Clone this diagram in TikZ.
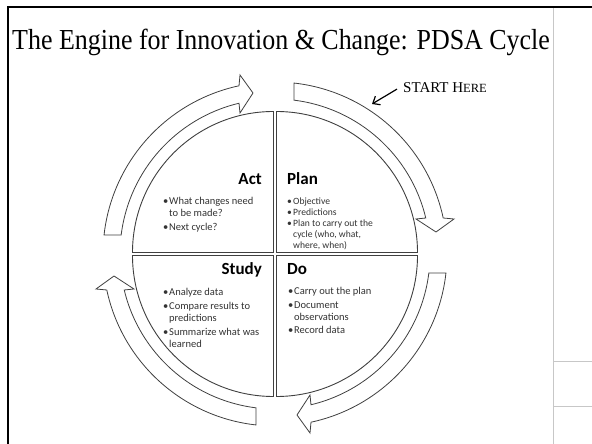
\documentclass[tikz,border=0pt]{standalone}
\usepackage{fontspec}
\setmainfont{Liberation Serif}
\newfontfamily\calib{Carlito}
\usetikzlibrary{arrows.meta}
\newcommand\bul{\makebox[6pt][l]{\textbullet}}
\newcommand\ind{\hspace*{6pt}}
\tikzset{
  quad/.style={draw=black!75, line width=0.9pt, fill=white},
  blockarrow/.style={draw=black!75, line width=0.8pt, fill=white, line join=miter},
  qhead/.style={font=\calib\bfseries\fontsize{17}{20}\selectfont, inner sep=0pt},
  qlist/.style={font=\calib\fontsize{10.5}{12}\selectfont, text=black!80, align=left, inner sep=0pt, anchor=north west},
  plist/.style={font=\calib\fontsize{9.6}{11}\selectfont, text=black!80, align=left, inner sep=0pt, anchor=north west},
  frameline/.style={line width=2.4pt, black},
  grayline/.style={line width=0.8pt, black!22}
}
\newcommand\cyclearrow[1]{%
  \begin{scope}[shift={(275,190)}, rotate=#1]
    \draw[blockarrow] (19,170.95) arc[start angle=83.66, end angle=12.08, radius=172]
      -- (179,35) -- (161,22) -- (141,35) -- (150.76,36)
      arc[start angle=13.43, end angle=82.96, radius=155] -- cycle;
  \end{scope}}
\begin{document}
\begin{tikzpicture}[x=1pt,y=1pt]
\useasboundingbox (0,0) rectangle (592,444);
% frame
\draw[frameline, line join=miter] (8,0) -- (8,437) -- (592,437);
\draw[grayline] (553,0) -- (553,436);
\draw[grayline] (553,83) -- (592,83);
\draw[grayline] (553,38) -- (592,38);
% title
\node[anchor=base west, inner sep=0pt, font=\fontsize{29}{32}\selectfont] (title) at (12,394)
  {\scalebox{0.895}[1]{The Engine for Innovation \& Change: PDSA Cycle}};
% cycle arrows
\cyclearrow{0}
\cyclearrow{90}
\cyclearrow{-90}
\cyclearrow{180}
% quadrants
\draw[quad] (273.5,191.5) -- ++(0,141) arc[start angle=90, end angle=180, radius=141] -- cycle;
\draw[quad] (276.5,191.5) -- ++(141,0) arc[start angle=0, end angle=90, radius=141] -- cycle;
\draw[quad] (273.5,188.5) -- ++(-141,0) arc[start angle=180, end angle=270, radius=141] -- cycle;
\draw[quad] (276.5,188.5) -- ++(0,-141) arc[start angle=270, end angle=360, radius=141] -- cycle;
% headings
\node[qhead, anchor=base east] (act) at (262,259) {Act};
\node[qhead, anchor=base west] (plan) at (287,259) {Plan};
\node[qhead, anchor=base east] (study) at (262,169) {Study};
\node[qhead, anchor=base west] (do) at (287,169) {Do};
% lists
\node[qlist] (actl) at (163,247) {\bul What changes need\\\ind to be made?\\[2pt]\bul Next cycle?};
\node[plist] (planl) at (287,246) {\bul Objective\\\bul Predictions\\\bul Plan to carry out the\\\ind cycle (who, what,\\\ind where, when)};
\node[qlist] (studyl) at (163,156) {\bul Analyze data\\[2pt]\bul Compare results to\\\ind predictions\\[2pt]\bul Summarize what was\\\ind learned};
\node[qlist] (dol) at (288,157) {\bul Carry out the plan\\[2pt]\bul Document\\\ind observations\\[1pt]\bul Record data};
% start here
\node[anchor=base west, inner sep=0pt, font=\fontsize{15}{17}\selectfont] (start) at (403,351)
  {START H{\fontsize{12.5}{14}\selectfont ERE}};
\coordinate (ptip) at (372,340);
\draw[line width=1.2pt, -{Straight Barb[length=6pt,width=10pt]}] ([xshift=-6pt,yshift=-1pt]start.west) -- (ptip);
\end{tikzpicture}
\end{document}
